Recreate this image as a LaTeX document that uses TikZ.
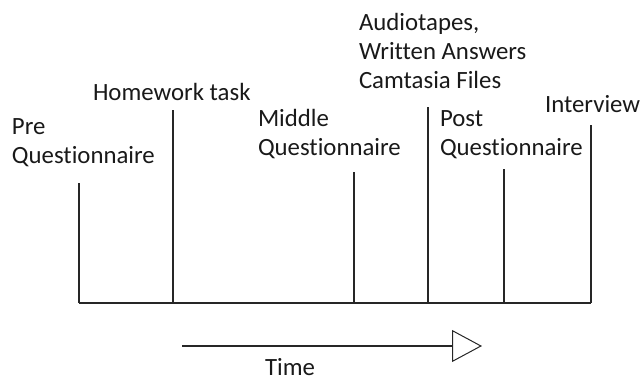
\documentclass[tikz,border=0pt]{standalone}
\usepackage{fontspec}
\setmainfont[Ligatures=NoCommon]{Carlito}
\usetikzlibrary{arrows.meta}
\begin{document}
\begin{tikzpicture}[x=1pt,y=-1pt,
  lbl/.style={anchor=base west,inner sep=0pt,outer sep=0pt,align=left,
    font=\fontsize{24.8}{29}\selectfont,text=black!90},
  tick/.style={line width=1.3pt,draw=black!85},
  timearrow/.style={line width=1.2pt,draw=black!85,
    -{Triangle[open,length=30pt,width=32pt,line width=1pt]}}]
\useasboundingbox (0,0) rectangle (641,378);
% baseline points and tick tops
\coordinate (b1) at (79,303);  \coordinate (t1) at (79,183);
\coordinate (b2) at (173,303); \coordinate (t2) at (173,110);
\coordinate (b3) at (354,303); \coordinate (t3) at (354,172);
\coordinate (b4) at (428,303); \coordinate (t4) at (428,107);
\coordinate (b5) at (504,303); \coordinate (t5) at (504,169);
\coordinate (b6) at (591,303); \coordinate (t6) at (591,125);
\draw[tick] (b1) -- (b6);
\foreach \i in {1,...,6} \draw[tick] (b\i) -- (t\i);
% labels (anchored at the baseline of the last line)
\node[lbl] (pre) at (12,163) {Pre\\Questionnaire};
\node[lbl] (hw) at (93,100) {Homework task};
\node[lbl] (mid) at (258,155) {Middle\\Questionnaire};
\node[lbl] (aud) at (359,88) {Audiotapes,\\Written Answers\\Camtasia Files};
\node[lbl] (post) at (440,155) {Post\\Questionnaire};
\node[lbl] (int) at (545,112) {Interview};
% time arrow
\coordinate (a1) at (182,346);
\coordinate (a2) at (482,346);
\draw[timearrow] (a1) -- (a2);
\node[lbl] (time) at (265,375) {Time};
\end{tikzpicture}
\end{document}
